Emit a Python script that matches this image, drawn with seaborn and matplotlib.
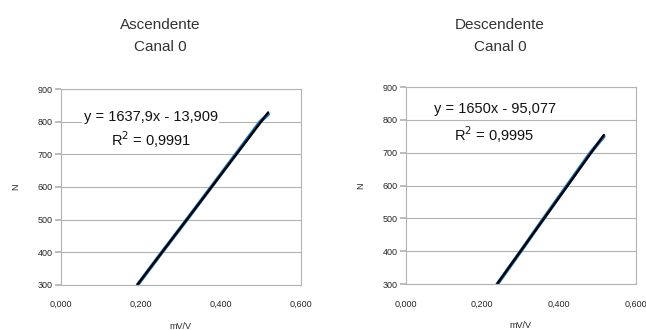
import matplotlib
matplotlib.use("Agg")
import matplotlib.pyplot as plt
import numpy as np
import pandas as pd
import seaborn as sns
from matplotlib.ticker import FuncFormatter

# ascending run, channel 0
asc_mv = [0.192, 0.253, 0.315, 0.376, 0.437, 0.498, 0.518]
asc_n = [300, 400, 500, 600, 700, 800, 823]
# descending run, channel 0
desc_mv = [0.239, 0.300, 0.360, 0.421, 0.482, 0.517]
desc_n = [300, 400, 500, 600, 700, 750]

titles = ["Ascendente\nCanal 0", "Descendente\nCanal 0"]
equations = ["y = 1637,9x - 13,909", "y = 1650x - 95,077"]
r2_labels = ["R$^2$ = 0,9991", "R$^2$ = 0,9995"]

sns.set_theme(style="white")
plt.rcParams["font.family"] = ["Liberation Sans", "DejaVu Sans"]

fig = plt.figure(figsize=(6.46, 3.30), dpi=100)
ax_pos = [[0.094, 0.137, 0.372, 0.593], [0.628, 0.139, 0.356, 0.597]]
title_x = [0.248, 0.774]
eq_pos = [(0.375, 0.857, 0.74), (0.387, 0.888, 0.76)]

runs = [(asc_mv, asc_n), (desc_mv, desc_n)]
comma = FuncFormatter(lambda v, p: f"{v:.3f}".replace(".", ","))

for i, (mv, n) in enumerate(runs):
    ax = fig.add_axes(ax_pos[i])
    df = pd.DataFrame({"mV/V": mv, "N": n})
    sns.lineplot(data=df, x="mV/V", y="N", ax=ax, color="#1f6fb4", linewidth=2.6)
    sns.regplot(data=df, x="mV/V", y="N", ax=ax, scatter=False, ci=None,
                color="black", line_kws={"linewidth": 1.6})
    ax.set_xlim(0, 0.6)
    ax.set_ylim(300, 900)
    ax.set_xticks([0, 0.2, 0.4, 0.6])
    ax.set_yticks(np.arange(300, 901, 100))
    ax.xaxis.set_major_formatter(comma)
    ax.yaxis.grid(True, color="#b3b3b3", linewidth=0.8)
    for s in ax.spines.values():
        s.set_color("#b3b3b3")
        s.set_linewidth(0.8)
    ax.tick_params(axis="y", left=True, length=4, color="#b3b3b3", labelsize=6.5, pad=2)
    ax.tick_params(axis="x", bottom=False, labelsize=6.5, pad=5)
    ax.set_xlabel("mV/V", fontsize=6.5, labelpad=9)
    ax.set_ylabel("N", fontsize=6.5, labelpad=12)
    ex, ey, ry = eq_pos[i]
    ax.text(ex, ey, equations[i], transform=ax.transAxes, ha="center", va="center",
            fontsize=10.5, color="#111111",
            bbox=dict(facecolor="white", edgecolor="none", pad=1))
    ax.text(ex, ry, r2_labels[i], transform=ax.transAxes, ha="center",
            va="center", fontsize=10.5, color="#111111")
    fig.text(title_x[i], 0.89, titles[i], ha="center", va="center",
             fontsize=11, color="#333333", linespacing=1.75)

fig.savefig("out.png", dpi=100)
